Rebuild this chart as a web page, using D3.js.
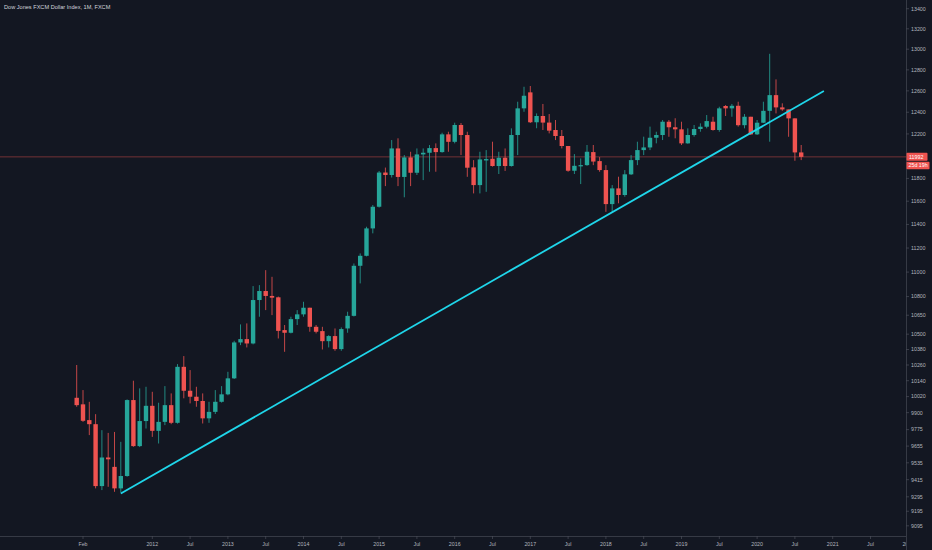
<!DOCTYPE html>
<html><head><meta charset="utf-8">
<script src="https://cdn.jsdelivr.net/npm/d3@7"></script>
<style>html,body{margin:0;padding:0;background:#131722;overflow:hidden}svg{display:block}</style>
</head><body><svg id="c" width="932" height="550"></svg>
<script>
// ---- data (monthly candles, Jan 2011 .. Aug 2020) ----
const title = "Dow Jones FXCM Dollar Index, 1M, FXCM";
const months = d3.utcMonth.range(new Date(Date.UTC(2011,0,1)), new Date(Date.UTC(2020,8,1)));
const open = [
10011, 9962, 9845, 9815, 9370, 9573, 9506, 9354, 9441, 9994, 9655, 9838,
9951, 9766, 9832, 9956, 9825, 10246, 10064, 10019, 9987, 9858, 9906, 9981,
10037, 10158, 10435, 10461, 10427, 10772, 10845, 10805, 10794, 10532, 10511, 10619,
10657, 10710, 10558, 10524, 10445, 10485, 10383, 10545, 10645, 11052, 11135, 11366,
11552, 11852, 11830, 12068, 11813, 11987, 11850, 12014, 12029, 12071, 12035, 12196,
12128, 12282, 12190, 11898, 11741, 11960, 11975, 11910, 11984, 11910, 12190, 12436,
12586, 12307, 12365, 12304, 12236, 12181, 12090, 11868, 11907, 11918, 12035, 11954,
11874, 11575, 11712, 11654, 11836, 11963, 12053, 12077, 12165, 12190, 12312, 12261,
12242, 12114, 12190, 12245, 12266, 12312, 12236, 12458, 12436, 12460, 12280, 12358,
12196, 12303, 12413, 12560, 12445, 12426, 12343, 12032];
const high = [
10260, 10069, 9981, 9889, 9771, 9751, 9758, 9686, 9999, 10140, 10082, 10094,
10056, 9974, 10099, 10044, 10267, 10329, 10221, 10094, 10044, 9981, 10069, 10099,
10208, 10448, 10577, 10585, 10885, 10893, 11016, 10961, 10800, 10572, 10638, 10691,
10758, 10710, 10572, 10558, 10492, 10545, 10553, 10678, 11071, 11155, 11380, 11567,
11866, 11896, 12144, 12160, 12008, 12038, 12068, 12068, 12099, 12114, 12211, 12220,
12303, 12300, 12220, 11963, 12038, 12053, 12129, 12038, 12068, 12251, 12498, 12639,
12646, 12389, 12477, 12383, 12328, 12236, 12090, 12017, 11978, 12099, 12099, 11990,
11918, 11741, 11815, 11874, 12008, 12129, 12175, 12267, 12220, 12328, 12328, 12344,
12312, 12251, 12282, 12297, 12374, 12358, 12451, 12467, 12477, 12498, 12383, 12358,
12328, 12498, 12955, 12709, 12483, 12426, 12343, 12099];
const low = [
9944, 9832, 9735, 9354, 9342, 9365, 9330, 9325, 9436, 9650, 9648, 9783,
9722, 9674, 9808, 9815, 9819, 10007, 9969, 9944, 9820, 9825, 9890, 9975,
10030, 10153, 10414, 10396, 10420, 10638, 10691, 10651, 10466, 10362, 10506, 10572,
10638, 10519, 10506, 10380, 10396, 10370, 10370, 10511, 10640, 10907, 11130, 11324,
11545, 11732, 11808, 11732, 11634, 11732, 11830, 11785, 11859, 11859, 12030, 12038,
12114, 12008, 11814, 11668, 11668, 11682, 11905, 11839, 11866, 11905, 12008, 12404,
12300, 12252, 12236, 12205, 12144, 12068, 11859, 11839, 11750, 11912, 11918, 11859,
11508, 11508, 11582, 11639, 11830, 11918, 12008, 12053, 12114, 12144, 12174, 12160,
12099, 12110, 12175, 12220, 12251, 12230, 12220, 12365, 12358, 12267, 12251, 12190,
12190, 12300, 12129, 12389, 12413, 12174, 11957, 11963];
const close = [
9956, 9840, 9815, 9370, 9573, 9560, 9354, 9441, 9994, 9655, 9838, 9951,
9766, 9832, 9956, 9825, 10246, 10064, 10019, 9987, 9858, 9906, 9981, 10037,
10158, 10435, 10461, 10427, 10772, 10845, 10805, 10791, 10526, 10511, 10619, 10657,
10710, 10558, 10519, 10445, 10485, 10383, 10540, 10645, 11052, 11135, 11366, 11552,
11852, 11830, 12068, 11813, 11987, 11850, 12014, 12029, 12071, 12035, 12196, 12128,
12282, 12190, 11895, 11741, 11969, 11972, 11910, 11984, 11910, 12190, 12436, 12554,
12307, 12365, 12304, 12230, 12181, 12090, 11868, 11912, 11918, 12038, 11950, 11874,
11575, 11712, 11654, 11836, 11963, 12053, 12077, 12165, 12190, 12312, 12261, 12242,
12114, 12190, 12245, 12266, 12318, 12236, 12436, 12436, 12460, 12280, 12358, 12196,
12303, 12413, 12560, 12445, 12426, 12343, 12032, 11992];

const priceTicks = [13400,13200,13000,12800,12600,12400,12200,11800,11600,11400,11200,11000,
  10800,10650,10500,10380,10260,10140,10020,9900,9775,9655,9535,9415,9295,9195,9095];
const timeTickDates = ["2011-02","2012-01","2012-07","2013-01","2013-07","2014-01","2014-07",
  "2015-01","2015-07","2016-01","2016-07","2017-01","2017-07","2018-01","2018-07","2019-01",
  "2019-07","2020-01","2020-07","2021-01","2021-07","2022-01"];
const timeTickLabels = ["Feb","2012","Jul","2013","Jul","2014","Jul","2015","Jul","2016","Jul",
  "2017","Jul","2018","Jul","2019","Jul","2020","Jul","2021","Jul","2022"];
const trendDates = ["2011-08-01","2020-11-19"];
const trendValues = [9318, 12598];
const lastPrice = 11992;
const countdown = "25d 19h";

// ---- layout ----
const W = 932, H = 550, PR = 906, PB = 536;
const UP = "#26a69a", DOWN = "#ef5350";
const monthIndex = s => { const p = s.split("-").map(Number);
  return (p[0]-2011)*12 + (p[1]-1) + (p[2] ? (p[2]-1)/30 : 0); };

const svg = d3.select("#c");
svg.append("rect").attr("width",W).attr("height",H).attr("fill","#131722");

const x = d3.scaleLinear().domain([0,12]).range([76.7,152.3]);
const y = d3.scaleLog().domain([9026,13488]).range([PB,0]);

const defs = svg.append("defs");
defs.append("clipPath").attr("id","plot").append("rect").attr("width",PR).attr("height",PB);
defs.append("clipPath").attr("id","taxis").append("rect").attr("x",0).attr("y",PB).attr("width",PR).attr("height",H-PB);

const font = "'Liberation Sans', Arial, sans-serif";
const plot = svg.append("g").attr("clip-path","url(#plot)");

// last price line
plot.append("line").attr("x1",0).attr("x2",PR)
  .attr("y1",y(lastPrice)).attr("y2",y(lastPrice))
  .attr("stroke",DOWN).attr("stroke-opacity",0.55).attr("stroke-width",0.8);

// candles
const data = months.map((d,i)=>({i, o:open[i], h:high[i], l:low[i], c:close[i]}));
const bw = 4.4;
const cg = plot.append("g");
cg.selectAll("line.w").data(data).join("line").attr("class","w")
  .attr("x1",d=>x(d.i)).attr("x2",d=>x(d.i))
  .attr("y1",d=>y(d.h)).attr("y2",d=>y(d.l))
  .attr("stroke",d=>d.c>=d.o?UP:DOWN).attr("stroke-width",1).attr("stroke-opacity",0.8);
cg.selectAll("rect.b").data(data).join("rect").attr("class","b")
  .attr("x",d=>x(d.i)-bw/2).attr("width",bw)
  .attr("y",d=>y(Math.max(d.o,d.c)))
  .attr("height",d=>Math.max(1,Math.abs(y(d.o)-y(d.c))))
  .attr("fill",d=>d.c>=d.o?UP:DOWN);

// trend line
plot.append("line")
  .attr("x1",x(monthIndex(trendDates[0]))).attr("y1",y(trendValues[0]))
  .attr("x2",x(monthIndex(trendDates[1]))).attr("y2",y(trendValues[1]))
  .attr("stroke","#1fd6ea").attr("stroke-width",1.8);

// axes lines
svg.append("line").attr("x1",PR+0.5).attr("x2",PR+0.5).attr("y1",0).attr("y2",H)
  .attr("stroke","#363a45").attr("stroke-width",1);
svg.append("line").attr("x1",0).attr("x2",PR).attr("y1",PB+0.5).attr("y2",PB+0.5)
  .attr("stroke","#363a45").attr("stroke-width",1);

// price axis
const pa = svg.append("g");
pa.selectAll("line").data(priceTicks).join("line")
  .attr("x1",PR).attr("x2",PR+3).attr("y1",d=>y(d)).attr("y2",d=>y(d))
  .attr("stroke","#4a4e59").attr("stroke-width",0.7);
pa.selectAll("text").data(priceTicks).join("text")
  .attr("x",PR+5).attr("y",d=>y(d)).attr("dy","0.35em")
  .attr("font-family",font).attr("font-size",5.3).attr("fill","#b2b5be")
  .text(d=>d);

// time axis
const ta = svg.append("g").attr("clip-path","url(#taxis)");
const tt = timeTickDates.map((d,k)=>({i:monthIndex(d), t:timeTickLabels[k]}));
ta.selectAll("line").data(tt).join("line")
  .attr("x1",d=>x(d.i)).attr("x2",d=>x(d.i)).attr("y1",PB).attr("y2",PB+3)
  .attr("stroke","#4a4e59").attr("stroke-width",0.7);
ta.selectAll("text").data(tt).join("text")
  .attr("x",d=>x(d.i)).attr("y",PB+10).attr("text-anchor","middle")
  .attr("font-family",font).attr("font-size",5.3).attr("fill","#b2b5be")
  .text(d=>d.t);

// last price labels
const ly = y(lastPrice);
svg.append("rect").attr("x",PR+0.5).attr("y",ly-4).attr("width",21).attr("height",8)
  .attr("fill",DOWN).attr("rx",0.8);
svg.append("text").attr("x",PR+3).attr("y",ly).attr("dy","0.35em")
  .attr("font-family",font).attr("font-size",5.3).attr("fill","#ffffff").text(lastPrice);
svg.append("rect").attr("x",PR+0.5).attr("y",ly+5).attr("width",23).attr("height",7.5)
  .attr("fill",DOWN).attr("rx",0.8);
svg.append("text").attr("x",PR+2.5).attr("y",ly+8.75).attr("dy","0.35em")
  .attr("font-family",font).attr("font-size",5.3).attr("fill","#ffffff").text(countdown);

// title
svg.append("text").attr("x",4).attr("y",9).attr("font-family",font).attr("font-size",5.6)
  .attr("fill","#d1d4dc").text(title);
</script></body></html>
